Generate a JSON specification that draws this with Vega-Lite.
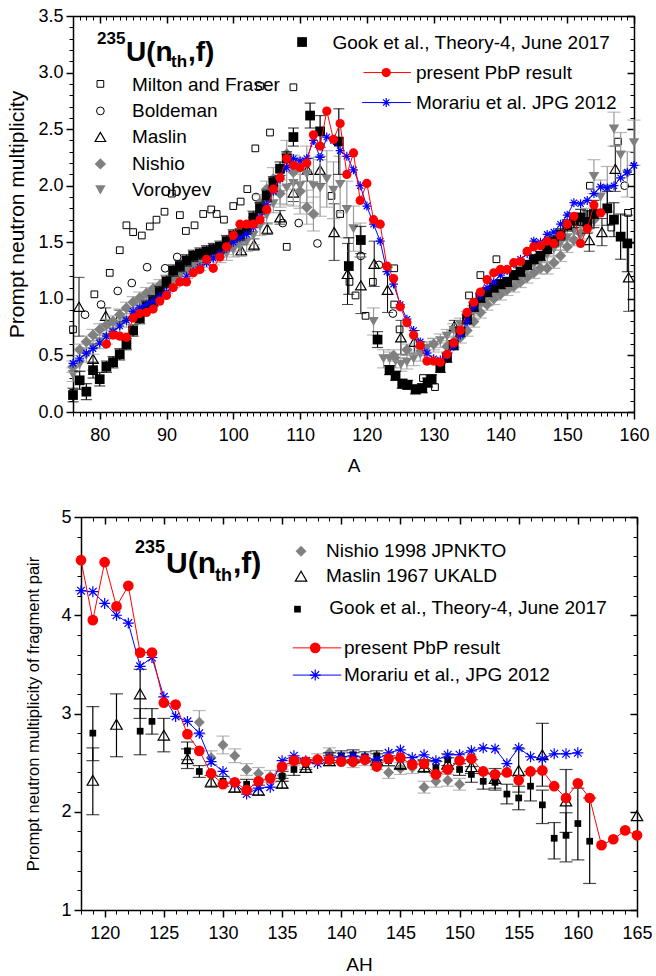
{
"$schema":"https://vega.github.io/schema/vega-lite/v6.json",
"background":"white",
"padding":{"left":6,"top":7,"right":5,"bottom":5},
"config":{"font":"Liberation Sans","view":{"stroke":null},"axis":{"grid":false,"labelFont":"Liberation Sans","titleFont":"Liberation Sans","labelColor":"black","titleColor":"black","domainColor":"black","tickColor":"black","titleFontWeight":"normal","labelFlush":false,"labelOverlap":false}},
"spacing":33,
"datasets":{
"top":[
{"s":"G","x":76,"y":0.15,"lo":0.09,"hi":0.21},{"s":"G","x":77,"y":0.28,"lo":0.2,"hi":0.36},{"s":"G","x":78,"y":0.18,"lo":0.11,"hi":0.25},{"s":"G","x":79,"y":0.37,"lo":0.3,"hi":0.44},{"s":"G","x":80,"y":0.29,"lo":0.23,"hi":0.35},{"s":"G","x":81,"y":0.4,"lo":0.35,"hi":0.45},{"s":"G","x":82,"y":0.44,"lo":0.39,"hi":0.49},{"s":"G","x":83,"y":0.51,"lo":0.46,"hi":0.56},{"s":"G","x":84,"y":0.6,"lo":0.55,"hi":0.65},{"s":"G","x":85,"y":0.72,"lo":0.67,"hi":0.77},{"s":"G","x":86,"y":0.83,"lo":0.78,"hi":0.88},{"s":"G","x":87,"y":0.93,"lo":0.88,"hi":0.98},{"s":"G","x":88,"y":0.98,"lo":0.93,"hi":1.03},{"s":"G","x":89,"y":1.06,"lo":1.01,"hi":1.11},{"s":"G","x":90,"y":1.15,"lo":1.1,"hi":1.2},{"s":"G","x":91,"y":1.25,"lo":1.2,"hi":1.3},{"s":"G","x":92,"y":1.29,"lo":1.24,"hi":1.34},{"s":"G","x":93,"y":1.34,"lo":1.29,"hi":1.39},{"s":"G","x":94,"y":1.38,"lo":1.33,"hi":1.43},{"s":"G","x":95,"y":1.4,"lo":1.35,"hi":1.45},{"s":"G","x":96,"y":1.42,"lo":1.37,"hi":1.47},{"s":"G","x":97,"y":1.44,"lo":1.39,"hi":1.49},{"s":"G","x":98,"y":1.46,"lo":1.41,"hi":1.51},{"s":"G","x":99,"y":1.51,"lo":1.46,"hi":1.56},{"s":"G","x":100,"y":1.56,"lo":1.51,"hi":1.61},{"s":"G","x":101,"y":1.57,"lo":1.52,"hi":1.62},{"s":"G","x":102,"y":1.63,"lo":1.58,"hi":1.68},{"s":"G","x":103,"y":1.72,"lo":1.67,"hi":1.77},{"s":"G","x":104,"y":1.8,"lo":1.75,"hi":1.85},{"s":"G","x":105,"y":1.91,"lo":1.86,"hi":1.96},{"s":"G","x":106,"y":2.03,"lo":1.98,"hi":2.08},{"s":"G","x":107,"y":2.15,"lo":2.09,"hi":2.21},{"s":"G","x":108,"y":2.24,"lo":2.18,"hi":2.3},{"s":"G","x":109,"y":2.43,"lo":2.35,"hi":2.51},{"s":"G","x":111.5,"y":2.62,"lo":2.51,"hi":2.73},{"s":"G","x":113,"y":2.48,"lo":2.34,"hi":2.62},{"s":"G","x":115.8,"y":2.39,"lo":2.1,"hi":2.68},{"s":"G","x":117.3,"y":1.29,"lo":1.04,"hi":1.54},{"s":"G","x":119.1,"y":1.52,"lo":1.4,"hi":1.64},{"s":"G","x":121.6,"y":0.64,"lo":0.57,"hi":0.71},{"s":"G","x":123.4,"y":0.37,"lo":0.33,"hi":0.41},{"s":"G","x":124.3,"y":0.32,"lo":0.28,"hi":0.36},{"s":"G","x":125.3,"y":0.25,"lo":0.21,"hi":0.29},{"s":"G","x":126.1,"y":0.24,"lo":0.2,"hi":0.28},{"s":"G","x":127.3,"y":0.2,"lo":0.16,"hi":0.24},{"s":"G","x":128.3,"y":0.21,"lo":0.17,"hi":0.25},{"s":"G","x":129.1,"y":0.26,"lo":0.22,"hi":0.3},{"s":"G","x":129.7,"y":0.29,"lo":0.25,"hi":0.33},{"s":"G","x":131,"y":0.39,"lo":0.35,"hi":0.43},{"s":"G","x":132,"y":0.48,"lo":0.44,"hi":0.52},{"s":"G","x":133,"y":0.59,"lo":0.55,"hi":0.63},{"s":"G","x":134,"y":0.71,"lo":0.67,"hi":0.75},{"s":"G","x":135,"y":0.82,"lo":0.78,"hi":0.86},{"s":"G","x":136,"y":0.93,"lo":0.89,"hi":0.97},{"s":"G","x":137,"y":1.01,"lo":0.97,"hi":1.05},{"s":"G","x":138,"y":1.06,"lo":1.02,"hi":1.1},{"s":"G","x":139,"y":1.1,"lo":1.06,"hi":1.14},{"s":"G","x":140,"y":1.13,"lo":1.09,"hi":1.17},{"s":"G","x":141,"y":1.15,"lo":1.11,"hi":1.19},{"s":"G","x":142,"y":1.21,"lo":1.17,"hi":1.25},{"s":"G","x":143,"y":1.24,"lo":1.2,"hi":1.28},{"s":"G","x":144,"y":1.3,"lo":1.26,"hi":1.34},{"s":"G","x":145,"y":1.35,"lo":1.31,"hi":1.39},{"s":"G","x":146,"y":1.38,"lo":1.34,"hi":1.42},{"s":"G","x":147,"y":1.44,"lo":1.4,"hi":1.48},{"s":"G","x":148,"y":1.51,"lo":1.46,"hi":1.56},{"s":"G","x":149,"y":1.57,"lo":1.52,"hi":1.62},{"s":"G","x":150,"y":1.65,"lo":1.6,"hi":1.7},{"s":"G","x":151,"y":1.69,"lo":1.63,"hi":1.75},{"s":"G","x":152,"y":1.72,"lo":1.65,"hi":1.79},{"s":"G","x":153,"y":1.68,"lo":1.58,"hi":1.78},{"s":"G","x":154,"y":1.75,"lo":1.63,"hi":1.87},{"s":"G","x":156,"y":1.8,"lo":1.65,"hi":1.95},{"s":"G","x":157,"y":1.7,"lo":1.55,"hi":1.85},{"s":"G","x":158,"y":1.55,"lo":1.35,"hi":1.75},{"s":"G","x":159,"y":1.49,"lo":1.24,"hi":1.74},
{"s":"G","x":110.3,"y":3.27,"g":"l"},
{"s":"M","x":76,"y":0.73},{"s":"M","x":79.2,"y":1.04},{"s":"M","x":81.5,"y":1.23},{"s":"M","x":83,"y":1.43},{"s":"M","x":84,"y":1.65},{"s":"M","x":85,"y":1.59},{"s":"M","x":86.3,"y":1.56},{"s":"M","x":87.5,"y":1.64},{"s":"M","x":88.5,"y":1.7},{"s":"M","x":89.7,"y":1.77},{"s":"M","x":90.8,"y":1.93},{"s":"M","x":92,"y":1.74},{"s":"M","x":92.9,"y":1.6},{"s":"M","x":94.2,"y":1.65},{"s":"M","x":95.5,"y":1.75},{"s":"M","x":96.7,"y":1.79},{"s":"M","x":97.5,"y":1.75},{"s":"M","x":98.6,"y":1.7},{"s":"M","x":100,"y":1.82},{"s":"M","x":101.1,"y":1.86},{"s":"M","x":102.1,"y":1.97},{"s":"M","x":103.3,"y":2.33},{"s":"M","x":104,"y":2.88},{"s":"M","x":105.5,"y":2.47},{"s":"M","x":108,"y":1.46},{"s":"M","x":109,"y":2.87},{"s":"M","x":114.7,"y":1.91},{"s":"M","x":116,"y":1.75},{"s":"M","x":117.4,"y":1.15},{"s":"M","x":118.3,"y":1.03},{"s":"M","x":119.8,"y":0.85},{"s":"M","x":120.9,"y":1.15},{"s":"M","x":124.1,"y":1.27},{"s":"M","x":124.1,"y":0.95},{"s":"M","x":124.9,"y":0.73},{"s":"M","x":128.4,"y":0.3},{"s":"M","x":130.2,"y":0.22},{"s":"M","x":135.3,"y":1.03},{"s":"M","x":137,"y":1.21},{"s":"M","x":139.4,"y":1.35},{"s":"M","x":153.4,"y":2.0},{"s":"M","x":156.6,"y":1.63},{"s":"M","x":157.6,"y":2.39},{"s":"M","x":159.1,"y":1.76},
{"s":"M","x":80.1,"y":2.9,"g":"l"},
{"s":"B","x":77.8,"y":0.86},{"s":"B","x":80.2,"y":0.95},{"s":"B","x":82.7,"y":1.07},{"s":"B","x":84.8,"y":1.14},{"s":"B","x":87.1,"y":1.28},{"s":"B","x":89.8,"y":1.27},{"s":"B","x":91.6,"y":1.37},{"s":"B","x":103.4,"y":1.9},{"s":"B","x":107.4,"y":1.67},{"s":"B","x":109.8,"y":1.67},{"s":"B","x":112.6,"y":1.49},{"s":"B","x":119.1,"y":1.38},{"s":"B","x":121.8,"y":1.3},{"s":"B","x":123.9,"y":0.87},{"s":"B","x":153.7,"y":1.74},{"s":"B","x":158.6,"y":2.0},
{"s":"B","x":80.1,"y":2.661,"g":"l"},
{"s":"L","x":76.9,"y":0.93,"lo":0.67,"hi":1.19},{"s":"L","x":79,"y":0.47,"lo":0.37,"hi":0.57},{"s":"L","x":80.9,"y":0.85,"lo":0.78,"hi":0.92},{"s":"L","x":83,"y":0.84,"lo":0.78,"hi":0.9},{"s":"L","x":101.2,"y":1.43,"lo":1.38,"hi":1.48},{"s":"L","x":103.1,"y":1.48,"lo":1.43,"hi":1.53},{"s":"L","x":105.1,"y":1.62,"lo":1.57,"hi":1.67},{"s":"L","x":107,"y":1.72,"lo":1.66,"hi":1.78},{"s":"L","x":109,"y":1.94,"lo":1.86,"hi":2.02},{"s":"L","x":111.1,"y":2.14,"lo":2.04,"hi":2.24},{"s":"L","x":113,"y":2.14,"lo":2.02,"hi":2.26},{"s":"L","x":115.1,"y":1.59,"lo":1.34,"hi":1.84},{"s":"L","x":117.1,"y":1.22,"lo":0.95,"hi":1.49},{"s":"L","x":119.1,"y":1.12,"lo":0.87,"hi":1.37},{"s":"L","x":121.1,"y":1.31,"lo":1.11,"hi":1.51},{"s":"L","x":123.1,"y":1.08,"lo":0.88,"hi":1.28},{"s":"L","x":125.1,"y":0.66,"lo":0.51,"hi":0.81},{"s":"L","x":127.1,"y":0.62,"lo":0.52,"hi":0.72},{"s":"L","x":133.1,"y":0.76,"lo":0.71,"hi":0.81},{"s":"L","x":153.3,"y":1.52,"lo":1.42,"hi":1.62},{"s":"L","x":155.2,"y":1.59,"lo":1.47,"hi":1.71},{"s":"L","x":157.2,"y":2.15,"lo":1.95,"hi":2.35},{"s":"L","x":159.2,"y":1.19,"lo":0.89,"hi":1.49},
{"s":"L","x":80.1,"y":2.431,"g":"l"},
{"s":"N","x":76,"y":0.4,"lo":0.35,"hi":0.45},{"s":"N","x":77,"y":0.55,"lo":0.5,"hi":0.6},{"s":"N","x":78,"y":0.62,"lo":0.57,"hi":0.67},{"s":"N","x":79,"y":0.68,"lo":0.63,"hi":0.73},{"s":"N","x":80,"y":0.73,"lo":0.68,"hi":0.78},{"s":"N","x":81,"y":0.77,"lo":0.72,"hi":0.82},{"s":"N","x":82,"y":0.8,"lo":0.75,"hi":0.85},{"s":"N","x":83,"y":0.86,"lo":0.81,"hi":0.91},{"s":"N","x":84,"y":0.92,"lo":0.87,"hi":0.97},{"s":"N","x":85,"y":0.97,"lo":0.92,"hi":1.02},{"s":"N","x":86,"y":1.01,"lo":0.96,"hi":1.06},{"s":"N","x":87,"y":1.05,"lo":1.0,"hi":1.1},{"s":"N","x":88,"y":1.09,"lo":1.04,"hi":1.14},{"s":"N","x":89,"y":1.12,"lo":1.07,"hi":1.17},{"s":"N","x":90,"y":1.16,"lo":1.11,"hi":1.21},{"s":"N","x":91,"y":1.2,"lo":1.15,"hi":1.25},{"s":"N","x":92,"y":1.24,"lo":1.19,"hi":1.29},{"s":"N","x":93,"y":1.28,"lo":1.23,"hi":1.33},{"s":"N","x":94,"y":1.32,"lo":1.27,"hi":1.37},{"s":"N","x":95,"y":1.35,"lo":1.3,"hi":1.4},{"s":"N","x":96,"y":1.38,"lo":1.33,"hi":1.43},{"s":"N","x":97,"y":1.4,"lo":1.35,"hi":1.45},{"s":"N","x":98,"y":1.42,"lo":1.37,"hi":1.47},{"s":"N","x":99,"y":1.44,"lo":1.39,"hi":1.49},{"s":"N","x":100,"y":1.47,"lo":1.42,"hi":1.52},{"s":"N","x":101,"y":1.52,"lo":1.47,"hi":1.57},{"s":"N","x":102,"y":1.6,"lo":1.54,"hi":1.66},{"s":"N","x":103,"y":1.72,"lo":1.66,"hi":1.78},{"s":"N","x":104,"y":1.85,"lo":1.78,"hi":1.92},{"s":"N","x":105,"y":1.97,"lo":1.9,"hi":2.04},{"s":"N","x":106,"y":2.06,"lo":1.96,"hi":2.16},{"s":"N","x":107,"y":1.93,"lo":1.81,"hi":2.05},{"s":"N","x":108,"y":2.28,"lo":2.16,"hi":2.4},{"s":"N","x":109,"y":2.12,"lo":1.97,"hi":2.27},{"s":"N","x":110,"y":1.95,"lo":1.8,"hi":2.1},{"s":"N","x":111,"y":1.81,"lo":1.66,"hi":1.96},{"s":"N","x":112,"y":1.75,"lo":1.6,"hi":1.9},{"s":"N","x":124,"y":0.5,"lo":0.45,"hi":0.55},{"s":"N","x":126,"y":0.55,"lo":0.5,"hi":0.6},{"s":"N","x":128,"y":0.57,"lo":0.52,"hi":0.62},{"s":"N","x":130,"y":0.6,"lo":0.55,"hi":0.65},{"s":"N","x":132,"y":0.58,"lo":0.53,"hi":0.63},{"s":"N","x":133,"y":0.62,"lo":0.57,"hi":0.67},{"s":"N","x":134,"y":0.66,"lo":0.61,"hi":0.71},{"s":"N","x":135,"y":0.72,"lo":0.67,"hi":0.77},{"s":"N","x":136,"y":0.8,"lo":0.75,"hi":0.85},{"s":"N","x":137,"y":0.88,"lo":0.83,"hi":0.93},{"s":"N","x":138,"y":0.95,"lo":0.9,"hi":1.0},{"s":"N","x":139,"y":1.0,"lo":0.95,"hi":1.05},{"s":"N","x":140,"y":1.04,"lo":0.99,"hi":1.09},{"s":"N","x":141,"y":1.08,"lo":1.03,"hi":1.13},{"s":"N","x":142,"y":1.11,"lo":1.06,"hi":1.16},{"s":"N","x":143,"y":1.15,"lo":1.1,"hi":1.2},{"s":"N","x":144,"y":1.19,"lo":1.14,"hi":1.24},{"s":"N","x":145,"y":1.23,"lo":1.18,"hi":1.28},{"s":"N","x":146,"y":1.27,"lo":1.22,"hi":1.32},{"s":"N","x":147,"y":1.27,"lo":1.22,"hi":1.32},{"s":"N","x":148,"y":1.32,"lo":1.27,"hi":1.37},{"s":"N","x":149,"y":1.38,"lo":1.33,"hi":1.43},{"s":"N","x":150,"y":1.46,"lo":1.41,"hi":1.51},{"s":"N","x":151,"y":1.52,"lo":1.47,"hi":1.57},{"s":"N","x":152,"y":1.58,"lo":1.53,"hi":1.63},{"s":"N","x":153,"y":1.64,"lo":1.59,"hi":1.69},{"s":"N","x":154,"y":1.7,"lo":1.65,"hi":1.75},
{"s":"N","x":80.1,"y":2.193,"g":"l"},
{"s":"V","x":76,"y":0.33,"lo":0.27,"hi":0.39},{"s":"V","x":77,"y":0.42,"lo":0.36,"hi":0.48},{"s":"V","x":78,"y":0.5,"lo":0.44,"hi":0.56},{"s":"V","x":79,"y":0.57,"lo":0.51,"hi":0.63},{"s":"V","x":80,"y":0.62,"lo":0.56,"hi":0.68},{"s":"V","x":81,"y":0.66,"lo":0.6,"hi":0.72},{"s":"V","x":82,"y":0.71,"lo":0.65,"hi":0.77},{"s":"V","x":83,"y":0.76,"lo":0.7,"hi":0.82},{"s":"V","x":84,"y":0.81,"lo":0.75,"hi":0.87},{"s":"V","x":85,"y":0.86,"lo":0.8,"hi":0.92},{"s":"V","x":86,"y":0.91,"lo":0.85,"hi":0.97},{"s":"V","x":87,"y":0.96,"lo":0.9,"hi":1.02},{"s":"V","x":88,"y":1.01,"lo":0.95,"hi":1.07},{"s":"V","x":89,"y":1.06,"lo":1.0,"hi":1.12},{"s":"V","x":90,"y":1.11,"lo":1.05,"hi":1.17},{"s":"V","x":91,"y":1.16,"lo":1.1,"hi":1.22},{"s":"V","x":92,"y":1.2,"lo":1.14,"hi":1.26},{"s":"V","x":93,"y":1.24,"lo":1.18,"hi":1.3},{"s":"V","x":94,"y":1.28,"lo":1.22,"hi":1.34},{"s":"V","x":95,"y":1.31,"lo":1.25,"hi":1.37},{"s":"V","x":96,"y":1.34,"lo":1.28,"hi":1.4},{"s":"V","x":97,"y":1.36,"lo":1.3,"hi":1.42},{"s":"V","x":98,"y":1.38,"lo":1.32,"hi":1.44},{"s":"V","x":99,"y":1.4,"lo":1.34,"hi":1.46},{"s":"V","x":100,"y":1.43,"lo":1.37,"hi":1.49},{"s":"V","x":101,"y":1.46,"lo":1.38,"hi":1.54},{"s":"V","x":102,"y":1.5,"lo":1.42,"hi":1.58},{"s":"V","x":103,"y":1.56,"lo":1.48,"hi":1.64},{"s":"V","x":104,"y":1.64,"lo":1.56,"hi":1.72},{"s":"V","x":105,"y":1.74,"lo":1.66,"hi":1.82},{"s":"V","x":106,"y":1.84,"lo":1.76,"hi":1.92},{"s":"V","x":107,"y":1.92,"lo":1.84,"hi":2.0},{"s":"V","x":108,"y":1.98,"lo":1.83,"hi":2.13},{"s":"V","x":109,"y":2.02,"lo":1.82,"hi":2.22},{"s":"V","x":110,"y":2.0,"lo":1.75,"hi":2.25},{"s":"V","x":111,"y":2.1,"lo":1.85,"hi":2.35},{"s":"V","x":112,"y":2.0,"lo":1.75,"hi":2.25},{"s":"V","x":113,"y":1.98,"lo":1.73,"hi":2.23},{"s":"V","x":114,"y":2.06,"lo":1.81,"hi":2.31},{"s":"V","x":115,"y":1.96,"lo":1.71,"hi":2.21},{"s":"V","x":116,"y":2.01,"lo":1.76,"hi":2.26},{"s":"V","x":117,"y":1.79,"lo":1.54,"hi":2.04},{"s":"V","x":118,"y":1.62,"lo":1.42,"hi":1.82},{"s":"V","x":119,"y":1.52,"lo":1.37,"hi":1.67},{"s":"V","x":121,"y":0.8,"lo":0.68,"hi":0.92},{"s":"V","x":122.5,"y":0.47,"lo":0.39,"hi":0.55},{"s":"V","x":123.4,"y":0.47,"lo":0.41,"hi":0.53},{"s":"V","x":124.3,"y":0.45,"lo":0.39,"hi":0.51},{"s":"V","x":125.1,"y":0.42,"lo":0.36,"hi":0.48},{"s":"V","x":126,"y":0.44,"lo":0.38,"hi":0.5},{"s":"V","x":127,"y":0.47,"lo":0.41,"hi":0.53},{"s":"V","x":128,"y":0.51,"lo":0.45,"hi":0.57},{"s":"V","x":129,"y":0.56,"lo":0.5,"hi":0.62},{"s":"V","x":130,"y":0.59,"lo":0.53,"hi":0.65},{"s":"V","x":131,"y":0.63,"lo":0.57,"hi":0.69},{"s":"V","x":132,"y":0.67,"lo":0.61,"hi":0.73},{"s":"V","x":133,"y":0.72,"lo":0.66,"hi":0.78},{"s":"V","x":134,"y":0.77,"lo":0.71,"hi":0.83},{"s":"V","x":135,"y":0.83,"lo":0.77,"hi":0.89},{"s":"V","x":136,"y":0.88,"lo":0.82,"hi":0.94},{"s":"V","x":137,"y":0.94,"lo":0.88,"hi":1.0},{"s":"V","x":138,"y":1.0,"lo":0.94,"hi":1.06},{"s":"V","x":139,"y":1.05,"lo":0.99,"hi":1.11},{"s":"V","x":140,"y":1.09,"lo":1.03,"hi":1.15},{"s":"V","x":141,"y":1.13,"lo":1.07,"hi":1.19},{"s":"V","x":142,"y":1.17,"lo":1.11,"hi":1.23},{"s":"V","x":143,"y":1.21,"lo":1.15,"hi":1.27},{"s":"V","x":144,"y":1.26,"lo":1.2,"hi":1.32},{"s":"V","x":145,"y":1.3,"lo":1.24,"hi":1.36},{"s":"V","x":146,"y":1.34,"lo":1.28,"hi":1.4},{"s":"V","x":147,"y":1.39,"lo":1.33,"hi":1.45},{"s":"V","x":148,"y":1.44,"lo":1.38,"hi":1.5},{"s":"V","x":149,"y":1.49,"lo":1.43,"hi":1.55},{"s":"V","x":150,"y":1.54,"lo":1.48,"hi":1.6},{"s":"V","x":151,"y":1.6,"lo":1.54,"hi":1.66},{"s":"V","x":152,"y":1.66,"lo":1.6,"hi":1.72},{"s":"V","x":153,"y":1.74,"lo":1.68,"hi":1.8},{"s":"V","x":154,"y":2.08,"lo":1.93,"hi":2.23},{"s":"V","x":155,"y":1.9,"lo":1.75,"hi":2.05},{"s":"V","x":156,"y":1.97,"lo":1.77,"hi":2.17},{"s":"V","x":157,"y":2.5,"lo":2.35,"hi":2.65},{"s":"V","x":158,"y":2.27,"lo":2.07,"hi":2.47},{"s":"V","x":159,"y":2.1,"lo":1.9,"hi":2.3},{"s":"V","x":160,"y":2.38,"lo":2.18,"hi":2.58},
{"s":"V","x":80.1,"y":1.963,"g":"l"},
{"s":"R","x":76,"y":0.43},{"s":"R","x":77,"y":0.47},{"s":"R","x":78,"y":0.52},{"s":"R","x":79,"y":0.56},{"s":"R","x":80,"y":0.61},{"s":"R","x":81,"y":0.67},{"s":"R","x":82,"y":0.71},{"s":"R","x":83,"y":0.76},{"s":"R","x":84,"y":0.81},{"s":"R","x":85,"y":0.89},{"s":"R","x":86,"y":0.92},{"s":"R","x":87,"y":0.95},{"s":"R","x":88,"y":0.98},{"s":"R","x":89,"y":1.02},{"s":"R","x":90,"y":1.06},{"s":"R","x":91,"y":1.1},{"s":"R","x":92,"y":1.15},{"s":"R","x":93,"y":1.2},{"s":"R","x":94,"y":1.24},{"s":"R","x":95,"y":1.28},{"s":"R","x":96,"y":1.32},{"s":"R","x":97,"y":1.36},{"s":"R","x":98,"y":1.4},{"s":"R","x":99,"y":1.45},{"s":"R","x":100,"y":1.5},{"s":"R","x":101,"y":1.54},{"s":"R","x":102,"y":1.57},{"s":"R","x":103,"y":1.63},{"s":"R","x":104,"y":1.72},{"s":"R","x":105,"y":1.83},{"s":"R","x":106,"y":1.95},{"s":"R","x":107,"y":2.06},{"s":"R","x":108,"y":2.16},{"s":"R","x":109,"y":2.24},{"s":"R","x":110,"y":2.22},{"s":"R","x":111,"y":2.24},{"s":"R","x":112,"y":2.4},{"s":"R","x":113,"y":2.25},{"s":"R","x":114,"y":2.43},{"s":"R","x":115,"y":2.4},{"s":"R","x":116,"y":2.31},{"s":"R","x":117,"y":2.26},{"s":"R","x":118,"y":2.14},{"s":"R","x":119,"y":2.0},{"s":"R","x":120,"y":1.82},{"s":"R","x":121,"y":1.66},{"s":"R","x":122,"y":1.51},{"s":"R","x":123,"y":1.24},{"s":"R","x":124,"y":1.13},{"s":"R","x":125,"y":0.95},{"s":"R","x":126,"y":0.82},{"s":"R","x":127,"y":0.72},{"s":"R","x":128,"y":0.62},{"s":"R","x":129,"y":0.52},{"s":"R","x":130,"y":0.47},{"s":"R","x":131,"y":0.46},{"s":"R","x":132,"y":0.5},{"s":"R","x":133,"y":0.58},{"s":"R","x":134,"y":0.68},{"s":"R","x":135,"y":0.8},{"s":"R","x":136,"y":0.93},{"s":"R","x":137,"y":1.03},{"s":"R","x":138,"y":1.1},{"s":"R","x":139,"y":1.15},{"s":"R","x":140,"y":1.21},{"s":"R","x":141,"y":1.25},{"s":"R","x":142,"y":1.31},{"s":"R","x":143,"y":1.35},{"s":"R","x":144,"y":1.4},{"s":"R","x":145,"y":1.51},{"s":"R","x":146,"y":1.5},{"s":"R","x":147,"y":1.57},{"s":"R","x":148,"y":1.59},{"s":"R","x":149,"y":1.66},{"s":"R","x":150,"y":1.74},{"s":"R","x":151,"y":1.85},{"s":"R","x":152,"y":1.84},{"s":"R","x":153,"y":1.87},{"s":"R","x":154,"y":1.93},{"s":"R","x":155,"y":1.99},{"s":"R","x":156,"y":1.98},{"s":"R","x":157,"y":2.0},{"s":"R","x":158,"y":2.07},{"s":"R","x":159,"y":2.12},{"s":"R","x":160,"y":2.18},
{"s":"R","x":119.3,"y":2.735,"g":"l","e":1},{"s":"R","x":122.9,"y":2.735,"g":"l"},{"s":"R","x":126.6,"y":2.735,"g":"l","e":1},
{"s":"P","x":81,"y":0.6},{"s":"P","x":82,"y":0.68},{"s":"P","x":83,"y":0.67},{"s":"P","x":84,"y":0.66},{"s":"P","x":85,"y":0.83},{"s":"P","x":86,"y":0.87},{"s":"P","x":87,"y":0.88},{"s":"P","x":88,"y":0.91},{"s":"P","x":89,"y":0.98},{"s":"P","x":90,"y":1.03},{"s":"P","x":91,"y":1.1},{"s":"P","x":92,"y":1.15},{"s":"P","x":93,"y":1.15},{"s":"P","x":94,"y":1.23},{"s":"P","x":95,"y":1.26},{"s":"P","x":96,"y":1.35},{"s":"P","x":97,"y":1.27},{"s":"P","x":98,"y":1.37},{"s":"P","x":99,"y":1.46},{"s":"P","x":100,"y":1.56},{"s":"P","x":101,"y":1.66},{"s":"P","x":102,"y":1.66},{"s":"P","x":103,"y":1.66},{"s":"P","x":104,"y":1.7},{"s":"P","x":105,"y":1.79},{"s":"P","x":106,"y":1.97},{"s":"P","x":107,"y":2.07},{"s":"P","x":108,"y":2.24},{"s":"P","x":109,"y":2.18},{"s":"P","x":110,"y":2.16},{"s":"P","x":111,"y":2.2},{"s":"P","x":112,"y":2.45},{"s":"P","x":113,"y":2.35},{"s":"P","x":114,"y":2.66},{"s":"P","x":115,"y":2.41},{"s":"P","x":116,"y":2.55},{"s":"P","x":117,"y":2.1},{"s":"P","x":118,"y":2.29},{"s":"P","x":119,"y":1.87},{"s":"P","x":120,"y":2.02},{"s":"P","x":121,"y":1.7},{"s":"P","x":122,"y":1.66},{"s":"P","x":123,"y":1.29},{"s":"P","x":124,"y":1.18},{"s":"P","x":125,"y":0.93},{"s":"P","x":126,"y":0.79},{"s":"P","x":127,"y":0.68},{"s":"P","x":128,"y":0.59},{"s":"P","x":129,"y":0.45},{"s":"P","x":130,"y":0.45},{"s":"P","x":131,"y":0.44},{"s":"P","x":132,"y":0.51},{"s":"P","x":133,"y":0.61},{"s":"P","x":134,"y":0.72},{"s":"P","x":135,"y":0.88},{"s":"P","x":136,"y":0.97},{"s":"P","x":137,"y":1.06},{"s":"P","x":138,"y":1.17},{"s":"P","x":139,"y":1.23},{"s":"P","x":140,"y":1.26},{"s":"P","x":141,"y":1.26},{"s":"P","x":142,"y":1.32},{"s":"P","x":143,"y":1.33},{"s":"P","x":144,"y":1.42},{"s":"P","x":145,"y":1.46},{"s":"P","x":146,"y":1.47},{"s":"P","x":147,"y":1.51},{"s":"P","x":148,"y":1.49},{"s":"P","x":149,"y":1.56},{"s":"P","x":150,"y":1.66},{"s":"P","x":151,"y":1.73},{"s":"P","x":152,"y":1.49},{"s":"P","x":153,"y":1.62},{"s":"P","x":154,"y":1.83},{"s":"P","x":155,"y":1.76},
{"s":"P","x":119.5,"y":3.0,"g":"l","e":1},{"s":"P","x":122.9,"y":3.0,"g":"l"},{"s":"P","x":126.6,"y":3.0,"g":"l","e":1}
],
"topTxt":[
{"r":"lab","x":114.85,"y":3.263,"t":"Gook et al., Theory-4, June 2017"},
{"r":"lab","x":127.35,"y":3.0,"t":"present PbP result"},
{"r":"lab","x":127.35,"y":2.735,"t":"Morariu et al. JPG 2012"},
{"r":"lab","x":84.83,"y":2.891,"t":"Milton and Fraser"},
{"r":"lab","x":84.83,"y":2.661,"t":"Boldeman"},
{"r":"lab","x":84.83,"y":2.431,"t":"Maslin"},
{"r":"lab","x":84.83,"y":2.193,"t":"Nishio"},
{"r":"lab","x":84.83,"y":1.963,"t":"Vorobyev"},
{"r":"big","x":83.93,"y":3.106,"t":"U(n"},
{"r":"big","x":93.22,"y":3.106,"t":",f)"},
{"r":"small","x":79.59,"y":3.254,"t":"235"},
{"r":"small","x":90.67,"y":3.05,"t":"th"}
],
"bot":[
{"s":"G","x":119,"y":2.8,"lo":2.52,"hi":3.07},{"s":"G","x":123,"y":2.82,"lo":2.58,"hi":3.05},{"s":"G","x":124,"y":2.92,"lo":2.79,"hi":3.05},{"s":"G","x":127,"y":2.62,"lo":2.53,"hi":2.71},{"s":"G","x":128,"y":2.41,"lo":2.35,"hi":2.47},{"s":"G","x":130,"y":2.31,"lo":2.26,"hi":2.36},{"s":"G","x":132,"y":2.28,"lo":2.23,"hi":2.33},{"s":"G","x":135,"y":2.36,"lo":2.31,"hi":2.41},{"s":"G","x":136,"y":2.43,"lo":2.37,"hi":2.49},{"s":"G","x":137,"y":2.48,"lo":2.43,"hi":2.53},{"s":"G","x":139,"y":2.55,"lo":2.5,"hi":2.6},{"s":"G","x":140,"y":2.57,"lo":2.52,"hi":2.62},{"s":"G","x":141,"y":2.58,"lo":2.53,"hi":2.63},{"s":"G","x":142,"y":2.56,"lo":2.51,"hi":2.61},{"s":"G","x":143,"y":2.57,"lo":2.52,"hi":2.62},{"s":"G","x":144,"y":2.52,"lo":2.47,"hi":2.57},{"s":"G","x":147,"y":2.47,"lo":2.41,"hi":2.53},{"s":"G","x":148,"y":2.45,"lo":2.39,"hi":2.51},{"s":"G","x":149,"y":2.53,"lo":2.47,"hi":2.59},{"s":"G","x":150,"y":2.43,"lo":2.37,"hi":2.49},{"s":"G","x":151,"y":2.38,"lo":2.3,"hi":2.46},{"s":"G","x":152,"y":2.31,"lo":2.23,"hi":2.39},{"s":"G","x":153,"y":2.3,"lo":2.22,"hi":2.38},{"s":"G","x":154,"y":2.18,"lo":2.08,"hi":2.28},{"s":"G","x":155,"y":2.14,"lo":2.02,"hi":2.26},{"s":"G","x":156,"y":2.26,"lo":2.11,"hi":2.41},{"s":"G","x":157,"y":2.07,"lo":1.88,"hi":2.22},{"s":"G","x":158,"y":1.73,"lo":1.52,"hi":1.89},{"s":"G","x":159,"y":1.76,"lo":1.49,"hi":1.99},{"s":"G","x":160,"y":1.88,"lo":1.51,"hi":2.24},{"s":"G","x":161,"y":1.7,"lo":1.27,"hi":2.14},
{"s":"G","x":136.3,"y":4.062,"g":"l"},
{"s":"L","x":119,"y":2.32,"lo":1.97,"hi":2.65},{"s":"L","x":121,"y":2.89,"lo":2.56,"hi":3.2},{"s":"L","x":123,"y":3.2,"lo":2.95,"hi":3.45},{"s":"L","x":125,"y":2.78,"lo":2.61,"hi":2.95},{"s":"L","x":127,"y":2.54,"lo":2.44,"hi":2.64},{"s":"L","x":129,"y":2.31,"lo":2.25,"hi":2.37},{"s":"L","x":131,"y":2.25,"lo":2.2,"hi":2.3},{"s":"L","x":133,"y":2.22,"lo":2.17,"hi":2.27},{"s":"L","x":135,"y":2.29,"lo":2.24,"hi":2.34},{"s":"L","x":137,"y":2.45,"lo":2.4,"hi":2.5},{"s":"L","x":139,"y":2.52,"lo":2.47,"hi":2.57},{"s":"L","x":141,"y":2.55,"lo":2.5,"hi":2.6},{"s":"L","x":143,"y":2.53,"lo":2.47,"hi":2.59},{"s":"L","x":145,"y":2.49,"lo":2.43,"hi":2.55},{"s":"L","x":147,"y":2.46,"lo":2.4,"hi":2.52},{"s":"L","x":149,"y":2.49,"lo":2.43,"hi":2.55},{"s":"L","x":151,"y":2.46,"lo":2.39,"hi":2.53},{"s":"L","x":153,"y":2.34,"lo":2.24,"hi":2.44},{"s":"L","x":155,"y":2.42,"lo":2.2,"hi":2.64},{"s":"L","x":157,"y":2.58,"lo":2.26,"hi":2.9},{"s":"L","x":159,"y":2.11,"lo":1.79,"hi":2.43},{"s":"L","x":165,"y":1.96},
{"s":"L","x":136.6,"y":4.398,"g":"l"},
{"s":"N","x":128,"y":2.91,"lo":2.79,"hi":3.03},{"s":"N","x":129,"y":2.55,"lo":2.48,"hi":2.62},{"s":"N","x":130,"y":2.68,"lo":2.59,"hi":2.77},{"s":"N","x":131,"y":2.57,"lo":2.5,"hi":2.64},{"s":"N","x":132,"y":2.43,"lo":2.37,"hi":2.49},{"s":"N","x":133,"y":2.39,"lo":2.33,"hi":2.45},{"s":"N","x":134,"y":2.36,"lo":2.3,"hi":2.42},{"s":"N","x":135,"y":2.37,"lo":2.31,"hi":2.43},{"s":"N","x":136,"y":2.52,"lo":2.47,"hi":2.57},{"s":"N","x":137,"y":2.5,"lo":2.45,"hi":2.55},{"s":"N","x":138,"y":2.54,"lo":2.49,"hi":2.59},{"s":"N","x":139,"y":2.6,"lo":2.55,"hi":2.65},{"s":"N","x":140,"y":2.55,"lo":2.5,"hi":2.6},{"s":"N","x":141,"y":2.5,"lo":2.45,"hi":2.55},{"s":"N","x":142,"y":2.52,"lo":2.47,"hi":2.57},{"s":"N","x":143,"y":2.48,"lo":2.43,"hi":2.53},{"s":"N","x":144,"y":2.4,"lo":2.34,"hi":2.46},{"s":"N","x":145,"y":2.44,"lo":2.38,"hi":2.5},{"s":"N","x":146,"y":2.45,"lo":2.39,"hi":2.51},{"s":"N","x":147,"y":2.25,"lo":2.19,"hi":2.31},{"s":"N","x":148,"y":2.31,"lo":2.25,"hi":2.37},{"s":"N","x":149,"y":2.32,"lo":2.26,"hi":2.38},{"s":"N","x":150,"y":2.28,"lo":2.22,"hi":2.34},
{"s":"N","x":136.6,"y":4.652,"g":"l"},
{"s":"R","x":118,"y":4.25},{"s":"R","x":119,"y":4.24},{"s":"R","x":120,"y":4.12},{"s":"R","x":121,"y":4.0},{"s":"R","x":122,"y":3.92},{"s":"R","x":123,"y":3.48},{"s":"R","x":124,"y":3.57},{"s":"R","x":125,"y":3.17},{"s":"R","x":126,"y":2.97},{"s":"R","x":127,"y":2.92},{"s":"R","x":128,"y":2.8},{"s":"R","x":129,"y":2.51},{"s":"R","x":130,"y":2.41},{"s":"R","x":131,"y":2.29},{"s":"R","x":132,"y":2.18},{"s":"R","x":133,"y":2.24},{"s":"R","x":134,"y":2.25},{"s":"R","x":135,"y":2.52},{"s":"R","x":136,"y":2.57},{"s":"R","x":137,"y":2.52},{"s":"R","x":138,"y":2.49},{"s":"R","x":139,"y":2.55},{"s":"R","x":140,"y":2.56},{"s":"R","x":141,"y":2.57},{"s":"R","x":142,"y":2.55},{"s":"R","x":143,"y":2.53},{"s":"R","x":144,"y":2.6},{"s":"R","x":145,"y":2.63},{"s":"R","x":146,"y":2.55},{"s":"R","x":147,"y":2.58},{"s":"R","x":148,"y":2.52},{"s":"R","x":149,"y":2.58},{"s":"R","x":150,"y":2.58},{"s":"R","x":151,"y":2.62},{"s":"R","x":152,"y":2.65},{"s":"R","x":153,"y":2.64},{"s":"R","x":154,"y":2.49},{"s":"R","x":155,"y":2.65},{"s":"R","x":156,"y":2.56},{"s":"R","x":157,"y":2.54},{"s":"R","x":158,"y":2.59},{"s":"R","x":159,"y":2.59},{"s":"R","x":160,"y":2.6},
{"s":"R","x":135.9,"y":3.391,"g":"l","e":1},{"s":"R","x":137.8,"y":3.391,"g":"l"},{"s":"R","x":140.0,"y":3.391,"g":"l","e":1},
{"s":"P","x":118,"y":4.56},{"s":"P","x":119,"y":3.95},{"s":"P","x":120,"y":4.54},{"s":"P","x":121,"y":4.09},{"s":"P","x":122,"y":4.3},{"s":"P","x":123,"y":3.62},{"s":"P","x":124,"y":3.62},{"s":"P","x":125,"y":3.11},{"s":"P","x":126,"y":3.09},{"s":"P","x":127,"y":2.79},{"s":"P","x":128,"y":2.62},{"s":"P","x":129,"y":2.39},{"s":"P","x":130,"y":2.28},{"s":"P","x":131,"y":2.3},{"s":"P","x":132,"y":2.22},{"s":"P","x":133,"y":2.31},{"s":"P","x":134,"y":2.34},{"s":"P","x":135,"y":2.46},{"s":"P","x":136,"y":2.52},{"s":"P","x":137,"y":2.51},{"s":"P","x":138,"y":2.53},{"s":"P","x":139,"y":2.53},{"s":"P","x":140,"y":2.51},{"s":"P","x":141,"y":2.51},{"s":"P","x":142,"y":2.53},{"s":"P","x":143,"y":2.46},{"s":"P","x":144,"y":2.54},{"s":"P","x":145,"y":2.55},{"s":"P","x":146,"y":2.48},{"s":"P","x":147,"y":2.49},{"s":"P","x":148,"y":2.38},{"s":"P","x":149,"y":2.43},{"s":"P","x":150,"y":2.52},{"s":"P","x":151,"y":2.54},{"s":"P","x":152,"y":2.41},{"s":"P","x":153,"y":2.38},{"s":"P","x":154,"y":2.4},{"s":"P","x":155,"y":2.32},{"s":"P","x":156,"y":2.41},{"s":"P","x":157,"y":2.42},{"s":"P","x":158,"y":2.26},{"s":"P","x":159,"y":2.14},{"s":"P","x":160,"y":2.29},{"s":"P","x":161,"y":2.14},{"s":"P","x":162,"y":1.66},{"s":"P","x":163,"y":1.72},{"s":"P","x":164,"y":1.81},{"s":"P","x":165,"y":1.76},
{"s":"P","x":135.9,"y":3.668,"g":"l","e":1},{"s":"P","x":137.8,"y":3.668,"g":"l"},{"s":"P","x":140.0,"y":3.668,"g":"l","e":1}
],
"botTxt":[
{"r":"lab","x":138.71,"y":4.652,"t":"Nishio 1998 JPNKTO"},
{"r":"lab","x":138.71,"y":4.398,"t":"Maslin 1967 UKALD"},
{"r":"lab","x":138.99,"y":4.069,"t":"Gook et al., Theory-4, June 2017"},
{"r":"lab","x":140.23,"y":3.668,"t":"present PbP result"},
{"r":"lab","x":140.23,"y":3.391,"t":"Morariu et al., JPG 2012"},
{"r":"big","x":125.19,"y":4.431,"t":"U(n"},
{"r":"big","x":130.85,"y":4.431,"t":",f)"},
{"r":"small","x":122.56,"y":4.632,"t":"235"},
{"r":"small","x":129.33,"y":4.347,"t":"th"}
]
},
"vconcat":[
{
"width":561,"height":396,
"data":{"name":"top"},
"encoding":{"x":{"field":"x","type":"quantitative","scale":{"domain":[76,160],"nice":false,"zero":false},"axis":null},"y":{"field":"y","type":"quantitative","scale":{"domain":[0,3.5],"nice":false,"zero":false},"axis":null}},
"resolve":{"axis":{"x":"independent","y":"independent"}},
"layer":[
{"transform":[{"filter":"datum.s==='M'"}],"mark":{"type":"point","shape":"square","filled":false,"color":"black","strokeWidth":1,"size":45,"opacity":1},
 "encoding":{"x":{"field":"x","type":"quantitative","scale":{"domain":[76,160],"nice":false,"zero":false},"axis":{"orient":"bottom","values":[80,90,100,110,120,130,140,150,160],"tickSize":7,"tickWidth":1.5,"labelFontSize":18,"labelPadding":7,"title":"A","titleFontSize":19,"titlePadding":12,"domainWidth":1.5}},
  "y":{"field":"y","type":"quantitative","scale":{"domain":[0,3.5],"nice":false,"zero":false},"axis":{"orient":"left","values":[0,0.5,1,1.5,2,2.5,3,3.5],"format":".1f","tickSize":7,"tickWidth":1.5,"labelFontSize":18,"labelPadding":3,"title":"Prompt neutron multiplicity","titleFontSize":21,"titlePadding":10,"domainWidth":1.5}}}},
{"transform":[{"filter":"datum.s==='B'"}],"mark":{"type":"point","shape":"circle","filled":false,"color":"black","strokeWidth":1,"size":60,"opacity":1},
 "encoding":{"x":{"field":"x","type":"quantitative","scale":{"domain":[76,160],"nice":false,"zero":false},"axis":{"orient":"bottom","values":[76,77,78,79,80,81,82,83,84,85,86,87,88,89,90,91,92,93,94,95,96,97,98,99,100,101,102,103,104,105,106,107,108,109,110,111,112,113,114,115,116,117,118,119,120,121,122,123,124,125,126,127,128,129,130,131,132,133,134,135,136,137,138,139,140,141,142,143,144,145,146,147,148,149,150,151,152,153,154,155,156,157,158,159,160],"tickSize":4,"tickWidth":1,"labels":false,"domain":false,"title":null}},
  "y":{"field":"y","type":"quantitative","scale":{"domain":[0,3.5],"nice":false,"zero":false},"axis":{"orient":"left","values":[0,0.1,0.2,0.3,0.4,0.5,0.6,0.7,0.8,0.9,1,1.1,1.2,1.3,1.4,1.5,1.6,1.7,1.8,1.9,2,2.1,2.2,2.3,2.4,2.5,2.6,2.7,2.8,2.9,3,3.1,3.2,3.3,3.4,3.5],"tickSize":4,"tickWidth":1,"labels":false,"domain":false,"title":null}}}},
{"transform":[{"filter":"datum.s==='L' && isValid(datum.lo)"}],"mark":{"type":"errorbar","color":"black","thickness":1,"ticks":{"size":11}},"encoding":{"y":{"field":"lo","type":"quantitative","scale":{"domain":[0,3.5],"nice":false,"zero":false},"axis":null},"y2":{"field":"hi"}}},
{"transform":[{"filter":"datum.s==='L'"}],"mark":{"type":"point","shape":"triangle-up","filled":false,"color":"black","strokeWidth":1.2,"size":110,"opacity":1},
 "encoding":{"x":{"field":"x","type":"quantitative","scale":{"domain":[76,160],"nice":false,"zero":false},"axis":{"orient":"top","values":[80,90,100,110,120,130,140,150,160],"tickSize":-7,"tickWidth":1.5,"labels":false,"domainWidth":1.5,"title":null}},
  "y":{"field":"y","type":"quantitative","scale":{"domain":[0,3.5],"nice":false,"zero":false},"axis":{"orient":"right","values":[0,0.5,1,1.5,2,2.5,3,3.5],"tickSize":-7,"tickWidth":1.5,"labels":false,"domainWidth":1.5,"title":null}}}},
{"transform":[{"filter":"datum.s==='V' && isValid(datum.lo)"}],"mark":{"type":"errorbar","color":"#9a9a9a","thickness":1.2,"ticks":{"size":13}},"encoding":{"y":{"field":"lo","type":"quantitative","scale":{"domain":[0,3.5],"nice":false,"zero":false},"axis":null},"y2":{"field":"hi"}}},
{"transform":[{"filter":"datum.s==='V'"}],"mark":{"type":"point","shape":"triangle-down","filled":true,"color":"#808080","size":110,"opacity":1},
 "encoding":{"x":{"field":"x","type":"quantitative","scale":{"domain":[76,160],"nice":false,"zero":false},"axis":{"orient":"top","values":[76,77,78,79,80,81,82,83,84,85,86,87,88,89,90,91,92,93,94,95,96,97,98,99,100,101,102,103,104,105,106,107,108,109,110,111,112,113,114,115,116,117,118,119,120,121,122,123,124,125,126,127,128,129,130,131,132,133,134,135,136,137,138,139,140,141,142,143,144,145,146,147,148,149,150,151,152,153,154,155,156,157,158,159,160],"tickSize":-4,"tickWidth":1,"labels":false,"domain":false,"title":null}},
  "y":{"field":"y","type":"quantitative","scale":{"domain":[0,3.5],"nice":false,"zero":false},"axis":{"orient":"right","values":[0,0.1,0.2,0.3,0.4,0.5,0.6,0.7,0.8,0.9,1,1.1,1.2,1.3,1.4,1.5,1.6,1.7,1.8,1.9,2,2.1,2.2,2.3,2.4,2.5,2.6,2.7,2.8,2.9,3,3.1,3.2,3.3,3.4,3.5],"tickSize":-4,"tickWidth":1,"labels":false,"domain":false,"title":null}}}},
{"transform":[{"filter":"datum.s==='N' && isValid(datum.lo)"}],"mark":{"type":"errorbar","color":"#9a9a9a","thickness":1.2,"ticks":{"size":13}},"encoding":{"y":{"field":"lo","type":"quantitative","scale":{"domain":[0,3.5],"nice":false,"zero":false},"axis":null},"y2":{"field":"hi"}}},
{"transform":[{"filter":"datum.s==='N'"}],"mark":{"type":"point","shape":"diamond","filled":true,"color":"#808080","size":130,"opacity":1}},
{"transform":[{"filter":"datum.s==='G' && isValid(datum.lo)"}],"mark":{"type":"errorbar","color":"black","thickness":1.2,"ticks":{"size":11}},"encoding":{"y":{"field":"lo","type":"quantitative","scale":{"domain":[0,3.5],"nice":false,"zero":false},"axis":null},"y2":{"field":"hi"}}},
{"transform":[{"filter":"datum.s==='G'"}],"mark":{"type":"point","shape":"square","filled":true,"color":"black","size":95,"opacity":1}},
{"transform":[{"filter":"datum.s==='R'"}],"mark":{"type":"line","color":"#0000ff","strokeWidth":1},"encoding":{"detail":{"field":"g"}}},
{"transform":[{"filter":"datum.s==='R' && datum.e !== 1"}],"mark":{"type":"point","shape":"M-1,0H1M0,-1V1M-0.7,-0.7L0.7,0.7M-0.7,0.7L0.7,-0.7","filled":false,"color":"#0000ff","strokeWidth":1.2,"size":80,"opacity":1}},
{"transform":[{"filter":"datum.s==='P'"}],"mark":{"type":"line","color":"#ff0000","strokeWidth":1},"encoding":{"detail":{"field":"g"}}},
{"transform":[{"filter":"datum.s==='P' && datum.e !== 1"}],"mark":{"type":"point","shape":"circle","filled":true,"color":"#ff0000","size":85,"opacity":1}},
{"data":{"name":"topTxt"},"transform":[{"filter":"datum.r==='lab'"}],"mark":{"type":"text","align":"left","baseline":"middle","fontSize":19,"font":"Liberation Sans","color":"black"},"encoding":{"text":{"field":"t"}}},
{"data":{"name":"topTxt"},"transform":[{"filter":"datum.r==='big'"}],"mark":{"type":"text","align":"left","baseline":"alphabetic","fontSize":28,"fontWeight":"bold","font":"Liberation Sans","color":"black"},"encoding":{"text":{"field":"t"}}},
{"data":{"name":"topTxt"},"transform":[{"filter":"datum.r==='small'"}],"mark":{"type":"text","align":"left","baseline":"alphabetic","fontSize":17,"fontWeight":"bold","font":"Liberation Sans","color":"black"},"encoding":{"text":{"field":"t"}}}
]
},
{
"width":564,"height":393,
"data":{"name":"bot"},
"encoding":{"x":{"field":"x","type":"quantitative","scale":{"domain":[118,165],"range":[8,564],"nice":false,"zero":false},"axis":null},"y":{"field":"y","type":"quantitative","scale":{"domain":[1,5],"nice":false,"zero":false},"axis":null}},
"resolve":{"axis":{"x":"independent","y":"independent"}},
"layer":[
{"transform":[{"filter":"datum.s==='N' && isValid(datum.lo)"}],"mark":{"type":"errorbar","color":"#9a9a9a","thickness":1.2,"ticks":{"size":13}},"encoding":{"y":{"field":"lo","type":"quantitative","scale":{"domain":[1,5],"nice":false,"zero":false},"axis":null},"y2":{"field":"hi"}}},
{"transform":[{"filter":"datum.s==='N'"}],"mark":{"type":"point","shape":"diamond","filled":true,"color":"#808080","size":120,"opacity":1},
 "encoding":{"x":{"field":"x","type":"quantitative","scale":{"domain":[118,165],"range":[8,564],"nice":false,"zero":false},"axis":{"orient":"bottom","values":[118,119,120,121,122,123,124,125,126,127,128,129,130,131,132,133,134,135,136,137,138,139,140,141,142,143,144,145,146,147,148,149,150,151,152,153,154,155,156,157,158,159,160,161,162,163,164,165],"tickSize":4,"tickWidth":1,"labels":false,"domain":false,"title":null}},
  "y":{"field":"y","type":"quantitative","scale":{"domain":[1,5],"nice":false,"zero":false},"axis":{"orient":"left","offset":-8,"values":[1,1.2,1.4,1.6,1.8,2,2.2,2.4,2.6,2.8,3,3.2,3.4,3.6,3.8,4,4.2,4.4,4.6,4.8,5],"tickSize":4,"tickWidth":1,"labels":false,"domain":false,"title":null}}}},
{"transform":[{"filter":"datum.s==='L' && isValid(datum.lo)"}],"mark":{"type":"errorbar","color":"black","thickness":1.2,"ticks":{"size":13}},"encoding":{"y":{"field":"lo","type":"quantitative","scale":{"domain":[1,5],"nice":false,"zero":false},"axis":null},"y2":{"field":"hi"}}},
{"transform":[{"filter":"datum.s==='L'"}],"mark":{"type":"point","shape":"triangle-up","filled":false,"color":"black","strokeWidth":1.2,"size":130,"opacity":1},
 "encoding":{"x":{"field":"x","type":"quantitative","scale":{"domain":[118,165],"range":[8,564],"nice":false,"zero":false},"axis":{"orient":"bottom","values":[120,125,130,135,140,145,150,155,160,165],"tickSize":7,"tickWidth":1.5,"labelFontSize":18,"labelPadding":7,"title":"AH","titleFontSize":19,"titlePadding":13,"domainWidth":1.5}},
  "y":{"field":"y","type":"quantitative","scale":{"domain":[1,5],"nice":false,"zero":false},"axis":{"orient":"left","offset":-8,"values":[1,2,3,4,5],"format":"d","tickSize":7,"tickWidth":1.5,"labelFontSize":18,"labelPadding":3,"title":"Prompt neutron multiplicity of fragment pair","titleFontSize":16.5,"titlePadding":19,"domainWidth":1.5}}}},
{"transform":[{"filter":"datum.s==='G' && isValid(datum.lo)"}],"mark":{"type":"errorbar","color":"black","thickness":1.2,"ticks":{"size":13}},"encoding":{"y":{"field":"lo","type":"quantitative","scale":{"domain":[1,5],"nice":false,"zero":false},"axis":null},"y2":{"field":"hi"}}},
{"transform":[{"filter":"datum.s==='G'"}],"mark":{"type":"point","shape":"square","filled":true,"color":"black","size":45,"opacity":1},
 "encoding":{"x":{"field":"x","type":"quantitative","scale":{"domain":[118,165],"range":[8,564],"nice":false,"zero":false},"axis":{"orient":"top","values":[120,125,130,135,140,145,150,155,160,165],"tickSize":-7,"tickWidth":1.5,"labels":false,"domainWidth":1.5,"title":null}},
  "y":{"field":"y","type":"quantitative","scale":{"domain":[1,5],"nice":false,"zero":false},"axis":{"orient":"right","values":[1,2,3,4,5],"tickSize":-7,"tickWidth":1.5,"labels":false,"domainWidth":1.5,"title":null}}}},
{"transform":[{"filter":"datum.s==='R'"}],"mark":{"type":"line","color":"#0000ff","strokeWidth":1},"encoding":{"detail":{"field":"g"}}},
{"transform":[{"filter":"datum.s==='R' && datum.e !== 1"}],"mark":{"type":"point","shape":"M-1,0H1M0,-1V1M-0.7,-0.7L0.7,0.7M-0.7,0.7L0.7,-0.7","filled":false,"color":"#0000ff","strokeWidth":1.2,"size":120,"opacity":1}},
{"transform":[{"filter":"datum.s==='P'"}],"mark":{"type":"line","color":"#ff0000","strokeWidth":1},"encoding":{"detail":{"field":"g"}}},
{"transform":[{"filter":"datum.s==='P' && datum.e !== 1"}],"mark":{"type":"point","shape":"circle","filled":true,"color":"#ff0000","size":115,"opacity":1},
 "encoding":{"x":{"field":"x","type":"quantitative","scale":{"domain":[118,165],"range":[8,564],"nice":false,"zero":false},"axis":{"orient":"top","values":[118,119,120,121,122,123,124,125,126,127,128,129,130,131,132,133,134,135,136,137,138,139,140,141,142,143,144,145,146,147,148,149,150,151,152,153,154,155,156,157,158,159,160,161,162,163,164,165],"tickSize":-4,"tickWidth":1,"labels":false,"domain":false,"title":null}},
  "y":{"field":"y","type":"quantitative","scale":{"domain":[1,5],"nice":false,"zero":false},"axis":{"orient":"right","values":[1,1.2,1.4,1.6,1.8,2,2.2,2.4,2.6,2.8,3,3.2,3.4,3.6,3.8,4,4.2,4.4,4.6,4.8,5],"tickSize":-4,"tickWidth":1,"labels":false,"domain":false,"title":null}}}},
{"data":{"name":"botTxt"},"transform":[{"filter":"datum.r==='lab'"}],"mark":{"type":"text","align":"left","baseline":"middle","fontSize":19,"font":"Liberation Sans","color":"black"},"encoding":{"text":{"field":"t"}}},
{"data":{"name":"botTxt"},"transform":[{"filter":"datum.r==='big'"}],"mark":{"type":"text","align":"left","baseline":"alphabetic","fontSize":30,"fontWeight":"bold","font":"Liberation Sans","color":"black"},"encoding":{"text":{"field":"t"}}},
{"data":{"name":"botTxt"},"transform":[{"filter":"datum.r==='small'"}],"mark":{"type":"text","align":"left","baseline":"alphabetic","fontSize":18,"fontWeight":"bold","font":"Liberation Sans","color":"black"},"encoding":{"text":{"field":"t"}}}
]
}
]
}
